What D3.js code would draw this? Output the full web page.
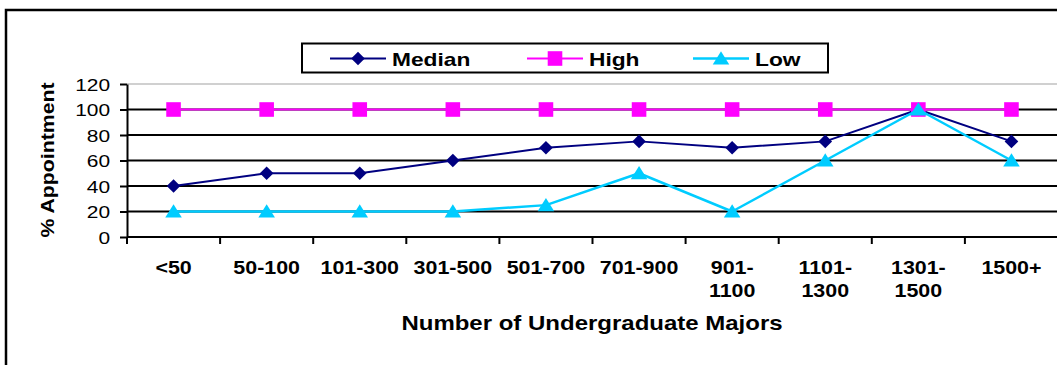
<!DOCTYPE html>
<html>
<head>
<meta charset="utf-8">
<script src="https://cdn.jsdelivr.net/npm/d3@7"></script>
<style>
  html, body { margin: 0; padding: 0; background: #fff; }
  svg { display: block; font-family: "Liberation Sans", Arial, sans-serif; }
</style>
</head>
<body>
<svg id="chart" width="1057" height="365"></svg>
<script>
// Category labels (a "\n" marks a line break in the axis label)
const categories = ["<50", "50-100", "101-300", "301-500", "501-700", "701-900",
                    "901-\n1100", "1101-\n1300", "1301-\n1500", "1500+"];
const medianValues = [40, 50, 50, 60, 70, 75, 70, 75, 100, 75];
const highValues   = [100, 100, 100, 100, 100, 100, 100, 100, 100, 100];
const lowValues    = [20, 20, 20, 20, 25, 50, 20, 60, 100, 60];
const yTicks = [0, 20, 40, 60, 80, 100, 120];
const seriesNames = ["Median", "High", "Low"];

const svg = d3.select("#chart");

// Outer chart frame
svg.append("rect")
  .attr("x", 6).attr("y", 10).attr("width", 1100).attr("height", 420)
  .attr("fill", "#fff").attr("stroke", "#000").attr("stroke-width", 2.5);

const x = d3.scaleBand().domain(categories).range([127, 1058]).padding(0);
const y = d3.scaleLinear().domain([0, 120]).range([237, 84]);
const cx = c => x(c) + x.bandwidth() / 2;

// Horizontal gridlines (top one is the light plot-area border)
svg.append("g").selectAll("line")
  .data(yTicks.filter(v => v > 0))
  .join("line")
  .attr("x1", x.range()[0]).attr("x2", x.range()[1])
  .attr("y1", d => y(d)).attr("y2", d => y(d))
  .attr("stroke", d => d === 120 ? "#c0c0c0" : "#000")
  .attr("stroke-width", d => d === 120 ? 1.5 : 2);

// Y axis
const yAxis = svg.append("g")
  .attr("transform", `translate(${x.range()[0]},0)`)
  .call(d3.axisLeft(y).tickValues(yTicks).tickSize(7).tickSizeOuter(0).tickPadding(10));
yAxis.select(".domain").attr("stroke", "#000").attr("stroke-width", 2);
yAxis.selectAll(".tick line").attr("stroke", "#000").attr("stroke-width", 2);
const ySx = 1.23;
yAxis.selectAll(".tick text")
  .attr("font-size", 17).attr("fill", "#000")
  .attr("font-family", "Liberation Sans, Arial, sans-serif")
  .attr("dy", "0.36em")
  .attr("x", -17 / ySx)
  .attr("transform", `scale(${ySx},1)`);

// X axis line and boundary ticks
svg.append("line")
  .attr("x1", x.range()[0]).attr("x2", x.range()[1])
  .attr("y1", y(0)).attr("y2", y(0))
  .attr("stroke", "#000").attr("stroke-width", 2);
svg.append("g").selectAll("line")
  .data(d3.range(categories.length + 1))
  .join("line")
  .attr("x1", i => x.range()[0] + i * x.step())
  .attr("x2", i => x.range()[0] + i * x.step())
  .attr("y1", y(0)).attr("y2", y(0) + 7)
  .attr("stroke", "#000").attr("stroke-width", 2);

// X tick labels
const xSx = 1.19;
const xLabels = svg.append("g").selectAll("text")
  .data(categories)
  .join("text")
  .attr("transform", d => `translate(${cx(d)},273.5) scale(${xSx},1)`)
  .attr("text-anchor", "middle")
  .attr("font-size", 18).attr("font-weight", "bold").attr("fill", "#000");
xLabels.each(function(d) {
  const lines = d.split("\n");
  d3.select(this).selectAll("tspan")
    .data(lines)
    .join("tspan")
    .attr("x", 0)
    .attr("y", (l, i) => i * 24)
    .text(l => l);
});

// Axis titles
svg.append("text")
  .attr("transform", `translate(592,330) scale(1.2,1)`)
  .attr("text-anchor", "middle")
  .attr("font-size", 20).attr("font-weight", "bold")
  .text("Number of Undergraduate Majors");

svg.append("text")
  .attr("transform", `translate(54,160) rotate(-90) scale(1.12,1)`)
  .attr("text-anchor", "middle")
  .attr("font-size", 19).attr("font-weight", "bold")
  .text("% Appointment");

// Marker shapes
const markerPath = {
  Median: s => `M0,${-s}L${s},0L0,${s}L${-s},0Z`,
  High:   s => `M${-s},${-s}H${s}V${s}H${-s}Z`,
  Low:    s => `M0,${-s}L${s * 1.15},${s * 0.85}L${-s * 1.15},${s * 0.85}Z`
};
const markerSize = { Median: 6.8, High: 7.3, Low: 7.2 };
const colors = { Median: "#000080", High: "#ff00ff", Low: "#00ccff" };
const lineWidth = { Median: 2, High: 2, Low: 2.5 };
const seriesData = { Median: medianValues, High: highValues, Low: lowValues };

const line = d3.line().x(d => cx(d.c)).y(d => y(d.v));

seriesNames.forEach(name => {
  const pts = categories.map((c, i) => ({ c, v: seriesData[name][i] }));
  const g = svg.append("g");
  g.append("path")
    .attr("d", line(pts))
    .attr("fill", "none")
    .attr("stroke", colors[name])
    .attr("stroke-width", lineWidth[name])
    .attr("stroke-linejoin", "round");
  g.selectAll("path.marker")
    .data(pts)
    .join("path")
    .attr("class", "marker")
    .attr("transform", d => `translate(${cx(d.c)},${y(d.v)})`)
    .attr("d", markerPath[name](markerSize[name]))
    .attr("fill", colors[name]);
});

// Legend
const legend = svg.append("g");
legend.append("rect")
  .attr("x", 302).attr("y", 43.5).attr("width", 526).attr("height", 29)
  .attr("fill", "#fff").attr("stroke", "#000").attr("stroke-width", 2);
const legendX = { Median: 330, High: 527, Low: 693 };
seriesNames.forEach(name => {
  const x0 = legendX[name];
  const gl = legend.append("g");
  gl.append("line")
    .attr("x1", x0).attr("x2", x0 + 56)
    .attr("y1", 58.5).attr("y2", 58.5)
    .attr("stroke", colors[name]).attr("stroke-width", lineWidth[name]);
  gl.append("path")
    .attr("transform", `translate(${x0 + 28},58.5)`)
    .attr("d", markerPath[name](markerSize[name]))
    .attr("fill", colors[name]);
  gl.append("text")
    .attr("transform", `translate(${x0 + 62},66.3) scale(1.23,1)`)
    .attr("font-size", 18.5).attr("font-weight", "bold")
    .text(name);
});
</script>
</body>
</html>
